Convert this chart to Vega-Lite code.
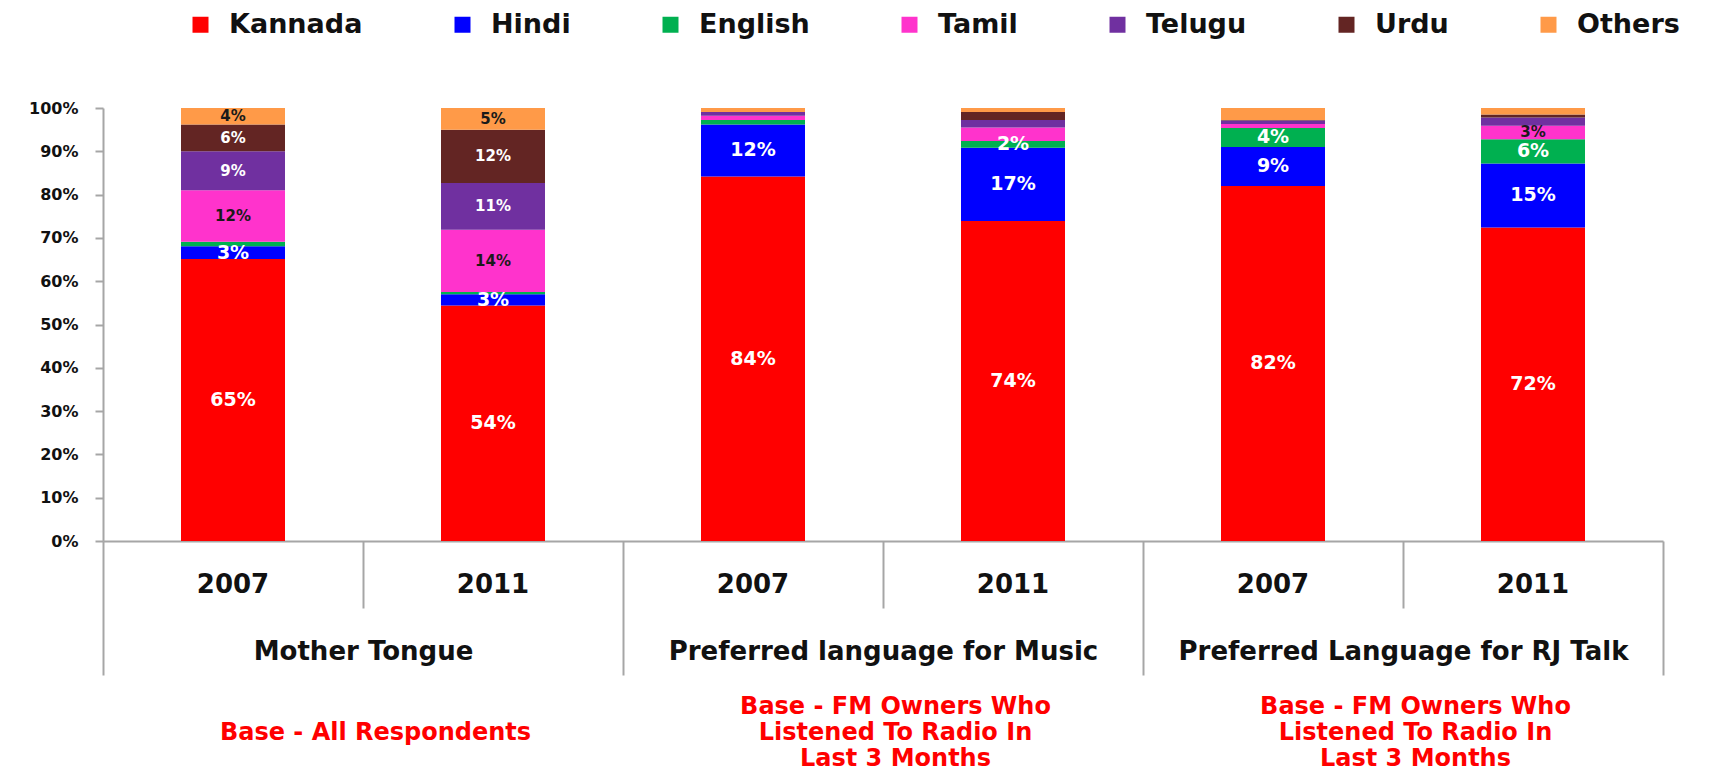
{
  "$schema": "https://vega.github.io/schema/vega-lite/v6.json",
  "width": 1560,
  "height": 433,
  "autosize": {"type": "none"},
  "padding": {"left": 103, "top": 108, "right": 52, "bottom": 229},
  "background": "white",
  "config": {"view": {"stroke": null}, "font": "DejaVu Sans"},
  "datasets": {
    "shares": [
      {"cat": "Mother Tongue|2007", "lang": "Kannada", "ord": 1, "pct": 0.651, "show": true},
      {"cat": "Mother Tongue|2007", "lang": "Hindi", "ord": 2, "pct": 0.030, "show": true},
      {"cat": "Mother Tongue|2007", "lang": "English", "ord": 3, "pct": 0.010, "show": false},
      {"cat": "Mother Tongue|2007", "lang": "Tamil", "ord": 4, "pct": 0.119, "show": true},
      {"cat": "Mother Tongue|2007", "lang": "Telugu", "ord": 5, "pct": 0.090, "show": true},
      {"cat": "Mother Tongue|2007", "lang": "Urdu", "ord": 6, "pct": 0.062, "show": true},
      {"cat": "Mother Tongue|2007", "lang": "Others", "ord": 7, "pct": 0.038, "show": true},
      {"cat": "Mother Tongue|2011", "lang": "Kannada", "ord": 1, "pct": 0.544, "show": true},
      {"cat": "Mother Tongue|2011", "lang": "Hindi", "ord": 2, "pct": 0.026, "show": true},
      {"cat": "Mother Tongue|2011", "lang": "English", "ord": 3, "pct": 0.005, "show": false},
      {"cat": "Mother Tongue|2011", "lang": "Tamil", "ord": 4, "pct": 0.144, "show": true},
      {"cat": "Mother Tongue|2011", "lang": "Telugu", "ord": 5, "pct": 0.108, "show": true},
      {"cat": "Mother Tongue|2011", "lang": "Urdu", "ord": 6, "pct": 0.123, "show": true},
      {"cat": "Mother Tongue|2011", "lang": "Others", "ord": 7, "pct": 0.050, "show": true},
      {"cat": "Preferred language for Music|2007", "lang": "Kannada", "ord": 1, "pct": 0.842, "show": true},
      {"cat": "Preferred language for Music|2007", "lang": "Hindi", "ord": 2, "pct": 0.120, "show": true},
      {"cat": "Preferred language for Music|2007", "lang": "English", "ord": 3, "pct": 0.010, "show": false},
      {"cat": "Preferred language for Music|2007", "lang": "Tamil", "ord": 4, "pct": 0.010, "show": false},
      {"cat": "Preferred language for Music|2007", "lang": "Telugu", "ord": 5, "pct": 0.009, "show": false},
      {"cat": "Preferred language for Music|2007", "lang": "Urdu", "ord": 6, "pct": 0.000, "show": false},
      {"cat": "Preferred language for Music|2007", "lang": "Others", "ord": 7, "pct": 0.009, "show": false},
      {"cat": "Preferred language for Music|2011", "lang": "Kannada", "ord": 1, "pct": 0.739, "show": true},
      {"cat": "Preferred language for Music|2011", "lang": "Hindi", "ord": 2, "pct": 0.169, "show": true},
      {"cat": "Preferred language for Music|2011", "lang": "English", "ord": 3, "pct": 0.016, "show": true},
      {"cat": "Preferred language for Music|2011", "lang": "Tamil", "ord": 4, "pct": 0.031, "show": false},
      {"cat": "Preferred language for Music|2011", "lang": "Telugu", "ord": 5, "pct": 0.017, "show": false},
      {"cat": "Preferred language for Music|2011", "lang": "Urdu", "ord": 6, "pct": 0.019, "show": false},
      {"cat": "Preferred language for Music|2011", "lang": "Others", "ord": 7, "pct": 0.009, "show": false},
      {"cat": "Preferred Language for RJ Talk|2007", "lang": "Kannada", "ord": 1, "pct": 0.820, "show": true},
      {"cat": "Preferred Language for RJ Talk|2007", "lang": "Hindi", "ord": 2, "pct": 0.090, "show": true},
      {"cat": "Preferred Language for RJ Talk|2007", "lang": "English", "ord": 3, "pct": 0.044, "show": true},
      {"cat": "Preferred Language for RJ Talk|2007", "lang": "Tamil", "ord": 4, "pct": 0.009, "show": false},
      {"cat": "Preferred Language for RJ Talk|2007", "lang": "Telugu", "ord": 5, "pct": 0.008, "show": false},
      {"cat": "Preferred Language for RJ Talk|2007", "lang": "Urdu", "ord": 6, "pct": 0.001, "show": false},
      {"cat": "Preferred Language for RJ Talk|2007", "lang": "Others", "ord": 7, "pct": 0.028, "show": false},
      {"cat": "Preferred Language for RJ Talk|2011", "lang": "Kannada", "ord": 1, "pct": 0.724, "show": true},
      {"cat": "Preferred Language for RJ Talk|2011", "lang": "Hindi", "ord": 2, "pct": 0.148, "show": true},
      {"cat": "Preferred Language for RJ Talk|2011", "lang": "English", "ord": 3, "pct": 0.056, "show": true},
      {"cat": "Preferred Language for RJ Talk|2011", "lang": "Tamil", "ord": 4, "pct": 0.031, "show": true},
      {"cat": "Preferred Language for RJ Talk|2011", "lang": "Telugu", "ord": 5, "pct": 0.019, "show": false},
      {"cat": "Preferred Language for RJ Talk|2011", "lang": "Urdu", "ord": 6, "pct": 0.007, "show": false},
      {"cat": "Preferred Language for RJ Talk|2011", "lang": "Others", "ord": 7, "pct": 0.015, "show": false}
    ],
    "groups": [
      {"group": "Mother Tongue"},
      {"group": "Preferred language for Music"},
      {"group": "Preferred Language for RJ Talk"}
    ]
  },
  "layer": [
    {
      "data": {"name": "shares"},
      "mark": {"type": "bar", "width": {"band": 0.4}},
      "encoding": {
        "x": {
          "field": "cat", "type": "nominal", "sort": null,
          "scale": {"paddingInner": 0, "paddingOuter": 0},
          "axis": {
            "orient": "bottom", "title": null,
            "labelExpr": "substring(datum.value, length(datum.value) - 4)",
            "ticks": false,
            "domainColor": "#a6a6a6", "domainWidth": 2,
            "labelPadding": 43, "labelBaseline": "middle", "labelAngle": 0,
            "labelFontSize": 26, "labelFontWeight": "bold", "labelColor": "#111111",
            "grid": false
          }
        },
        "y": {
          "field": "pct", "type": "quantitative", "stack": "zero",
          "scale": {"domain": [0, 1], "nice": false},
          "axis": {
            "orient": "left", "title": null, "format": ".0%",
            "values": [0, 0.1, 0.2, 0.3, 0.4, 0.5, 0.6, 0.7, 0.8, 0.9, 1],
            "domainColor": "#a6a6a6", "domainWidth": 2,
            "tickColor": "#a6a6a6", "tickWidth": 2, "tickSize": 8,
            "labelFontSize": 16, "labelFontWeight": "bold", "labelColor": "#111111",
            "labelPadding": 17, "grid": false
          }
        },
        "color": {
          "field": "lang", "type": "nominal",
          "scale": {
            "domain": ["Kannada", "Hindi", "English", "Tamil", "Telugu", "Urdu", "Others"],
            "range": ["#ff0000", "#0000ff", "#00b050", "#ff33cc", "#7030a0", "#632523", "#ff9a48"]
          },
          "legend": {
            "orient": "none", "legendX": 84, "legendY": -97,
            "direction": "horizontal", "columns": 7, "title": null,
            "symbolType": "square", "symbolSize": 256, "symbolStrokeWidth": 0,
            "labelFontSize": 27, "labelFontWeight": "bold", "labelColor": "#111111",
            "labelOffset": 15, "columnPadding": 86, "padding": 0, "labelLimit": 300
          }
        },
        "order": {"field": "ord", "type": "quantitative"}
      }
    },
    {
      "data": {"name": "shares"},
      "transform": [
        {"stack": "pct", "groupby": ["cat"], "sort": [{"field": "ord", "order": "ascending"}], "as": ["s0", "s1"]},
        {"fold": ["s0", "s1"], "as": ["edgeName", "edge"]},
        {"aggregate": [{"op": "mean", "field": "edge", "as": "mid"}], "groupby": ["cat", "lang", "pct", "show"]},
        {"filter": "datum.show"}
      ],
      "mark": {"type": "text", "fontWeight": "bold", "align": "center", "baseline": "middle"},
      "encoding": {
        "x": {
          "field": "cat", "type": "nominal",
          "scale": {
            "domain": ["Mother Tongue|2007", "Mother Tongue|2011", "Preferred language for Music|2007", "Preferred language for Music|2011", "Preferred Language for RJ Talk|2007", "Preferred Language for RJ Talk|2011"],
            "paddingInner": 0, "paddingOuter": 0
          },
          "axis": null
        },
        "y": {"field": "mid", "type": "quantitative", "scale": {"domain": [0, 1], "nice": false}, "axis": null},
        "text": {"field": "pct", "type": "quantitative", "format": ".0%"},
        "color": {
          "condition": {"test": "datum.lang === 'Tamil' || datum.lang === 'Others'", "value": "#1a1a1a"},
          "value": "#ffffff"
        },
        "size": {
          "condition": {"test": "datum.lang === 'Kannada' || datum.lang === 'Hindi' || datum.lang === 'English'", "value": 19},
          "value": 15
        }
      }
    },
    {
      "data": {"name": "groups"},
      "mark": {"type": "text", "text": "", "opacity": 0},
      "encoding": {
        "x": {
          "field": "group", "type": "nominal", "sort": null,
          "scale": {"paddingInner": 0, "paddingOuter": 0},
          "axis": {
            "orient": "bottom", "title": null, "domain": false,
            "tickBand": "extent", "tickSize": 134, "tickColor": "#a6a6a6", "tickWidth": 2,
            "labelPadding": -24, "labelBaseline": "middle", "labelAngle": 0,
            "labelFontSize": 26, "labelFontWeight": "bold", "labelColor": "#111111",
            "labelLimit": 600, "grid": false
          }
        }
      }
    },
    {
      "data": {"name": "groups"},
      "mark": {"type": "text", "text": "", "opacity": 0},
      "encoding": {
        "x": {
          "field": "group", "type": "nominal", "sort": null,
          "scale": {"paddingInner": 0, "paddingOuter": 0},
          "axis": {
            "orient": "bottom", "title": null, "domain": false, "labels": false,
            "tickSize": 67, "tickColor": "#a6a6a6", "tickWidth": 2, "grid": false
          }
        }
      }
    },
    {
      "data": {"name": "groups"},
      "mark": {"type": "text", "text": "", "opacity": 0},
      "encoding": {
        "x": {
          "field": "group", "type": "nominal", "sort": null,
          "scale": {"paddingInner": 0, "paddingOuter": 0},
          "axis": {
            "orient": "bottom", "title": null, "domain": false, "ticks": false,
            "labelExpr": "datum.value === 'Mother Tongue' ? ['', 'Base - All Respondents'] : ['Base - FM Owners Who', 'Listened To Radio In', 'Last 3 Months']",
            "labelPadding": 153, "labelBaseline": "top", "labelAngle": 0,
            "labelLineHeight": 26, "labelOffset": 12,
            "labelFontSize": 24, "labelFontWeight": "bold", "labelColor": "#ff0000",
            "labelLimit": 600, "grid": false
          }
        }
      }
    }
  ],
  "resolve": {
    "scale": {"x": "independent", "y": "independent"},
    "axis": {"x": "independent", "y": "independent"}
  }
}
